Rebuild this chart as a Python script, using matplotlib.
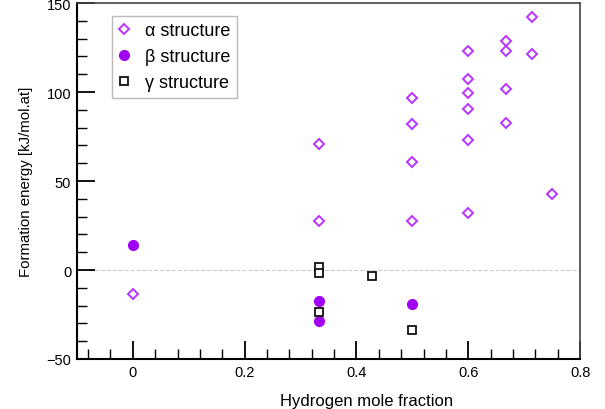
import numpy as np
import matplotlib
matplotlib.use("Agg")
from matplotlib import pyplot as plt
from matplotlib.ticker import MultipleLocator

# Daten
alpha_x = [0, 1/3, 1/3, 0.5, 0.5, 0.5, 0.5, 0.6, 0.6, 0.6, 0.6, 0.6, 0.6,
           2/3, 2/3, 2/3, 2/3, 5/7, 5/7, 0.75]
alpha_y = [-13.5, 71, 27.3, 96.5, 82, 60.5, 27.7, 123, 107.5, 99.3, 90.3, 73.2, 31.8,
           128.5, 123.2, 101.7, 82.6, 142, 121.5, 42.9]

beta_x = [0, 1/3, 1/3, 0.5]
beta_y = [14.2, -17.6, -28.8, -19.1]

gamma_x = [1/3, 1/3, 1/3, 3/7, 0.5]
gamma_y = [1.7, -1.7, -23.4, -3.6, -33.5]

plt.rcParams["font.family"] = ["Liberation Sans", "DejaVu Sans"]

fig = plt.figure(figsize=(6.05, 4.10), dpi=100)
ax = fig.add_axes([0.127, 0.122, 0.832, 0.868])

ax.axhline(0, color="#cccccc", lw=0.8, ls="--", zorder=1)

ax.plot(alpha_x, alpha_y, "D", ms=4.7, mfc="white", mec="#b833ff", mew=1.4,
        ls="None", label="α structure", zorder=3)
ax.plot(beta_x, beta_y, "o", ms=7, mfc="#a000f5", mec="#a000f5",
        ls="None", label="β structure", zorder=3)
ax.plot(gamma_x, gamma_y, "s", ms=6.2, mfc="white", mec="#111111", mew=1.3,
        ls="None", label="γ structure", zorder=3)

ax.set_xlim(-0.1, 0.8)
ax.set_ylim(-50, 150)
ax.xaxis.set_minor_locator(MultipleLocator(0.04))
ax.yaxis.set_minor_locator(MultipleLocator(10))
ax.set_xticks([0, 0.2, 0.4, 0.6, 0.8])
ax.set_xticklabels(["0", "0.2", "0.4", "0.6", "0.8"])
ax.set_yticks([-50, 0, 50, 100, 150])
ax.set_yticklabels(["\u221250", "0", "50", "100", "150"])

ax.tick_params(which="major", direction="in", length=13, width=1.3, labelsize=10.5,
               pad=4, top=False, right=False)
ax.tick_params(which="minor", direction="in", length=7, width=1.0,
               top=False, right=False)

for side in ["left", "bottom"]:
    ax.spines[side].set_linewidth(1.5)
    ax.spines[side].set_color("black")
for side in ["top", "right"]:
    ax.spines[side].set_linewidth(1.2)
    ax.spines[side].set_color("#444444")

ax.set_xlabel("Hydrogen mole fraction", fontsize=12)
ax.xaxis.set_label_coords(0.575, -0.095)
ax.set_ylabel("Formation energy [kJ/mol.at]", fontsize=10.8, labelpad=10)

leg = ax.legend(loc="upper left", bbox_to_anchor=(0.0696, 0.9635), borderaxespad=0,
                fontsize=13, fancybox=False, edgecolor="#bbbbbb", framealpha=1,
                handletextpad=0.9, borderpad=0.35, labelspacing=0.5,
                handlelength=0.6)
leg.get_frame().set_linewidth(1.0)

plt.savefig("out.png", dpi=100)
